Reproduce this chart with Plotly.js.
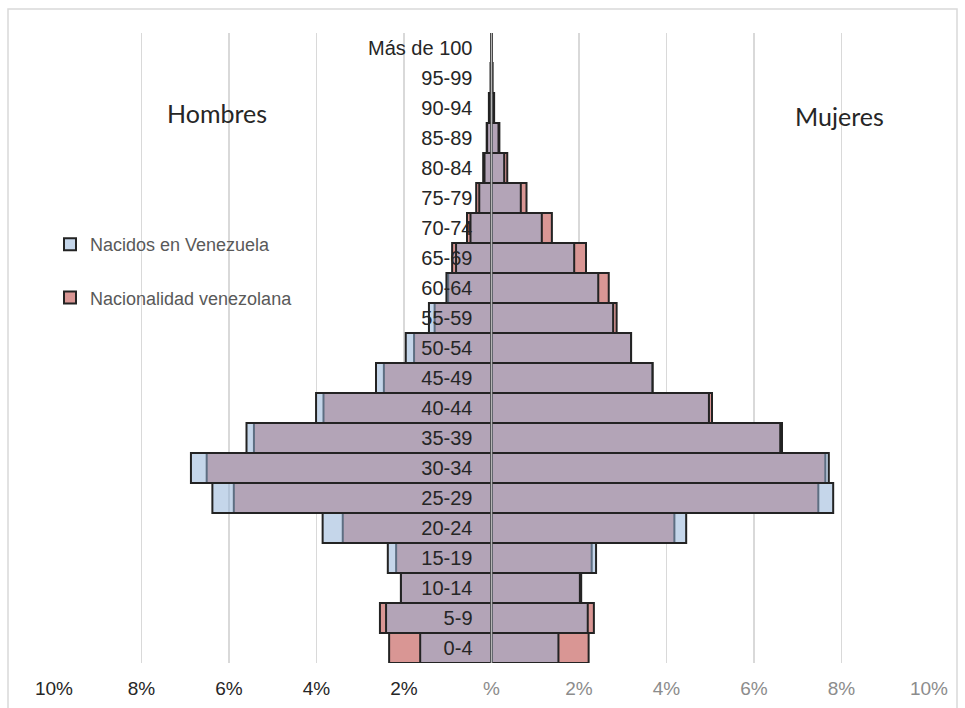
<!DOCTYPE html>
<html>
<head>
<meta charset="utf-8">
<script src="https://cdn.plot.ly/plotly-3.0.1.min.js"></script>
<style>
  html, body { margin: 0; padding: 0; background: #ffffff; }
  #chart { width: 965px; height: 708px; }
</style>
</head>
<body>
<div id="chart"></div>
<script>
// Age groups, bottom to top
const ageGroups = ['0-4', '5-9', '10-14', '15-19', '20-24', '25-29', '30-34', '35-39',
  '40-44', '45-49', '50-54', '55-59', '60-64', '65-69', '70-74', '75-79', '80-84',
  '85-89', '90-94', '95-99', 'Más de 100'];

// Share of total population (%), men
const menBorn = [1.63, 2.41, 2.07, 2.37, 3.86, 6.38, 6.87, 5.60, 4.01, 2.64, 1.96,
  1.43, 1.03, 0.81, 0.48, 0.28, 0.16, 0.10, 0.05, 0.015, 0.004];
const menNationality = [2.34, 2.55, 2.07, 2.18, 3.40, 5.89, 6.51, 5.43, 3.84, 2.46, 1.77,
  1.30, 0.99, 0.90, 0.56, 0.35, 0.19, 0.11, 0.06, 0.02, 0.005];

// Share of total population (%), women
const womenBorn = [1.53, 2.20, 2.02, 2.39, 4.45, 7.81, 7.71, 6.60, 4.97, 3.68, 3.19,
  2.78, 2.44, 1.89, 1.15, 0.67, 0.29, 0.16, 0.05, 0.02, 0.005];
const womenNationality = [2.22, 2.34, 2.05, 2.29, 4.18, 7.47, 7.63, 6.64, 5.04, 3.68, 3.19,
  2.86, 2.68, 2.16, 1.38, 0.80, 0.36, 0.18, 0.06, 0.02, 0.005];

// Axis ticks
const tickValues = [-10, -8, -6, -4, -2, 0, 2, 4, 6, 8, 10];
const tickLabels = ['10%', '8%', '6%', '4%', '2%', '%', '2%', '4%', '6%', '8%', '10%'];

const seriesNames = ['Nacidos en Venezuela', 'Nacionalidad venezolana'];

const ARIAL = 'Arial, Liberation Sans, sans-serif';
const CALIBRI = 'Lato, sans-serif';

const outline = { color: '#232323', width: 2 };
const pinkFill = '#d99694';
const blueFill = 'rgba(145,178,215,0.53)';

const negate = arr => arr.map(v => -v);

function barTrace(xs, fill, name, group, rank, show) {
  return {
    type: 'bar', orientation: 'h',
    x: xs, y: ageGroups,
    name: name, legendgroup: group, legendrank: rank, showlegend: show,
    marker: { color: fill, line: outline },
    hoverinfo: 'y+name'
  };
}

const traces = [
  // nationality drawn underneath, opaque
  barTrace(negate(menNationality), pinkFill, seriesNames[1], 'nat', 2, true),
  barTrace(womenNationality, pinkFill, seriesNames[1], 'nat', 2, false),
  // born in Venezuela drawn on top, translucent
  barTrace(negate(menBorn), blueFill, seriesNames[0], 'born', 1, true),
  barTrace(womenBorn, blueFill, seriesNames[0], 'born', 1, false)
];

const tickText = tickLabels.map((t, i) =>
  tickValues[i] < 0 ? t : '<span style="color:#8c8c8c">' + t + '</span>');

// pixel helpers for paper coordinates (plot area 54..929 x 33..663)
const px = x => (x - 54) / 875;
const py = y => (663 - y) / 630;

const layout = {
  width: 965, height: 708,
  margin: { l: 54, r: 36, t: 33, b: 45 },
  paper_bgcolor: '#ffffff', plot_bgcolor: '#ffffff',
  barmode: 'overlay', bargap: 0,
  font: { family: ARIAL, color: '#262626' },
  xaxis: {
    range: [-10, 10],
    tickvals: tickValues, ticktext: tickText,
    tickfont: { family: ARIAL, size: 19, color: '#262626' },
    showgrid: true, gridcolor: '#d9d9d9', gridwidth: 1.5,
    zeroline: false, showline: false, ticks: '',
    ticklabelstandoff: 12, fixedrange: true
  },
  yaxis: {
    type: 'category', categoryorder: 'array', categoryarray: ageGroups,
    anchor: 'free', position: 0.5, side: 'left',
    showgrid: false, zeroline: false, showline: false, ticks: '',
    tickfont: { family: ARIAL, size: 20, color: '#262626' },
    ticklabelstandoff: 19, layer: 'above traces', fixedrange: true
  },
  legend: {
    x: px(50), y: py(226), xanchor: 'left', yanchor: 'top',
    font: { family: ARIAL, size: 18, color: '#595959' },
    bgcolor: 'rgba(0,0,0,0)', traceorder: 'grouped', tracegroupgap: 27,
    itemwidth: 30
  },
  annotations: [
    { text: 'Hombres', xref: 'paper', yref: 'paper', x: px(217), y: py(113),
      xanchor: 'center', yanchor: 'middle',
      showarrow: false, font: { family: CALIBRI, size: 25, color: '#262626' } },
    { text: 'Mujeres', xref: 'paper', yref: 'paper', x: px(839), y: py(116),
      xanchor: 'center', yanchor: 'middle',
      showarrow: false, font: { family: CALIBRI, size: 25, color: '#262626' } }
  ],
  shapes: [
    // vertical axis at 0 %
    { type: 'line', xref: 'x', yref: 'paper', x0: 0, x1: 0, y0: 0, y1: 1,
      line: { color: '#b5b5b5', width: 1.5 }, layer: 'above' },
    // outer chart frame
    { type: 'rect', xref: 'paper', yref: 'paper',
      x0: px(8), x1: px(957), y0: py(720), y1: py(9),
      line: { color: '#d9d9d9', width: 1.5 }, fillcolor: 'rgba(0,0,0,0)', layer: 'below' }
  ]
};

Plotly.newPlot('chart', traces, layout, { displayModeBar: false, staticPlot: true });
</script>
</body>
</html>
